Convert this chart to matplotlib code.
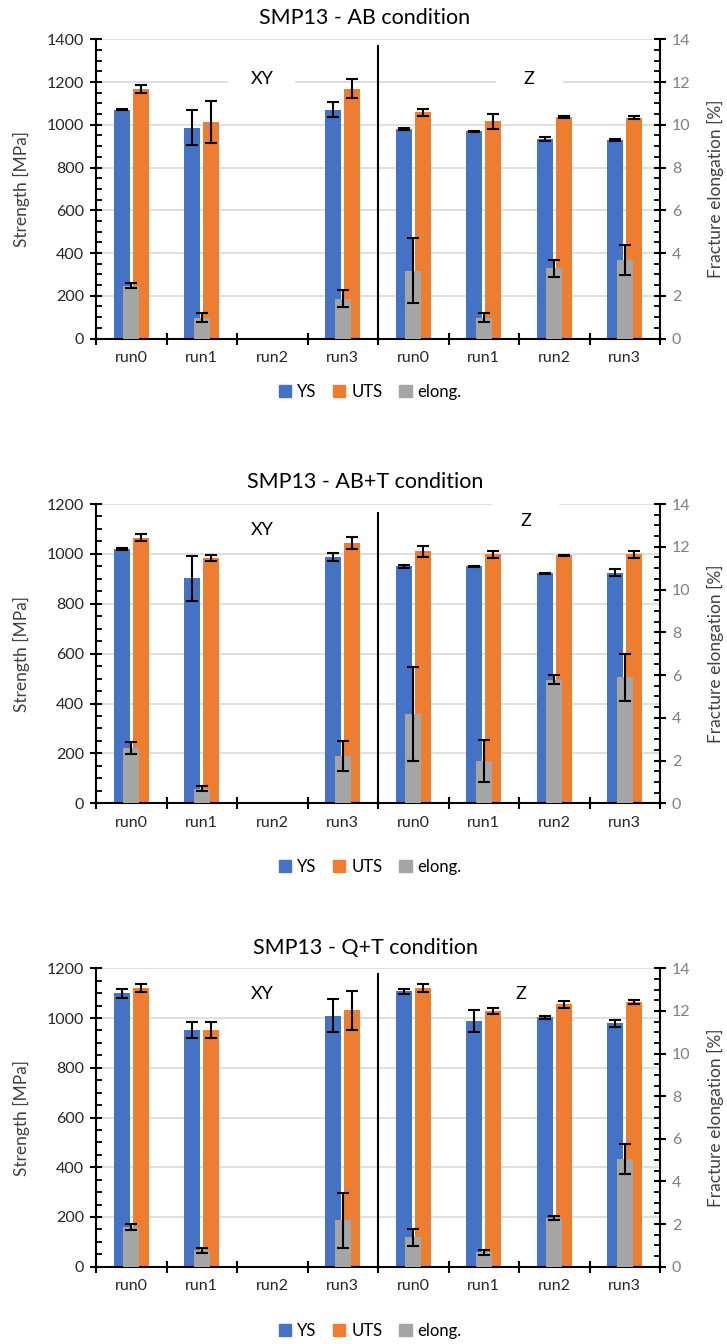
import numpy as np
import matplotlib.pyplot as plt
from matplotlib.ticker import MultipleLocator
from matplotlib.patches import Rectangle, Patch

plt.rcParams['font.family'] = ['Lato', 'DejaVu Sans']

runs = ['run0', 'run1', 'run2', 'run3', 'run0', 'run1', 'run2', 'run3']
nan = np.nan

# SMP13 - AB condition
ys_ab = [1070, 987, nan, 1070, 980, 969, 934, 930]
ys_ab_err = [3, 82, 0, 35, 3, 2, 10, 4]
uts_ab = [1167, 1014, nan, 1169, 1058, 1016, 1036, 1034]
uts_ab_err = [18, 98, 0, 44, 15, 34, 6, 7]
el_ab = [2.47, 0.97, nan, 1.87, 3.16, 0.97, 3.28, 3.67]
el_ab_err = [0.12, 0.22, 0, 0.41, 1.52, 0.22, 0.40, 0.71]

# SMP13 - AB+T condition
ys_abt = [1019, 903, nan, 987, 950, 950, 923, 924]
ys_abt_err = [5, 90, 0, 16, 5, 3, 2, 14]
uts_abt = [1065, 983, nan, 1043, 1010, 998, 994, 998]
uts_abt_err = [13, 12, 0, 25, 21, 15, 2, 14]
el_abt = [2.59, 0.69, nan, 2.21, 4.19, 1.98, 5.78, 5.89]
el_abt_err = [0.29, 0.10, 0, 0.69, 2.2, 1.0, 0.21, 1.1]

# SMP13 - Q+T condition
ys_qt = [1099, 952, nan, 1009, 1108, 987, 1003, 979]
ys_qt_err = [17, 32, 0, 67, 10, 44, 6, 14]
uts_qt = [1120, 952, nan, 1031, 1121, 1028, 1055, 1064]
uts_qt_err = [15, 32, 0, 79, 15, 13, 14, 7]
el_qt = [1.86, 0.77, nan, 2.18, 1.38, 0.67, 2.28, 5.07]
el_qt_err = [0.12, 0.12, 0, 1.3, 0.41, 0.13, 0.10, 0.71]

C_YS = '#4472C4'
C_UTS = '#ED7D31'
C_EL = '#A5A5A5'
W = 727.0
H = 1344.0

fig = plt.figure(figsize=(7.27, 13.44), dpi=100)


def panel(top, bottom, title, title_y, legend_y, ys, ys_err, uts, uts_err, el, el_err,
          ymax, xy_pos, z_pos, div_top):
    ax = fig.add_axes([96 / W, 1 - bottom / H, 564 / W, (bottom - top) / H])
    ax2 = ax.twinx()
    x = np.arange(len(runs))
    ax.set_axisbelow(True)
    ax.yaxis.grid(True, color='#d9d9d9', lw=1.2, zorder=0)
    ax.bar(x - 0.137, ys, 0.225, color=C_YS, zorder=2)
    ax.bar(x + 0.137, uts, 0.225, color=C_UTS, zorder=2)
    ax.errorbar(x - 0.137, ys, yerr=ys_err, fmt='none', ecolor='black',
                elinewidth=1.5, capsize=4, capthick=1.5, zorder=3)
    ax.errorbar(x + 0.137, uts, yerr=uts_err, fmt='none', ecolor='black',
                elinewidth=1.5, capsize=4, capthick=1.5, zorder=3)
    ax2.bar(x, el, 0.225, color=C_EL, zorder=2)
    ax2.errorbar(x, el, yerr=el_err, fmt='none', ecolor='black',
                 elinewidth=1.5, capsize=4, capthick=1.5, zorder=3)

    ax.set_xlim(-0.5, 7.5)
    ax.set_ylim(0, ymax)
    ax2.set_ylim(0, 14)
    ax.set_yticks(np.arange(0, ymax + 1, 200))
    ax.yaxis.set_minor_locator(MultipleLocator(50))
    ax2.set_yticks(np.arange(0, 15, 2))
    ax2.yaxis.set_minor_locator(MultipleLocator(0.5))

    ax.set_xticks(np.arange(-0.5, 8, 1))
    ax.set_xticklabels([])
    ax.set_xticks(x, minor=True)
    ax.set_xticklabels(runs, minor=True)
    ax.tick_params(axis='x', which='major', direction='inout', length=9, width=1.5)
    ax.tick_params(axis='x', which='minor', length=0, pad=9, labelsize=11.5,
                   labelcolor='#262626')
    ax.tick_params(axis='y', which='major', direction='inout', length=9, width=1.5,
                   labelsize=11.5, labelcolor='#262626', pad=4)
    ax.tick_params(axis='y', which='minor', direction='in', length=4, width=1.3)
    ax2.tick_params(axis='y', which='major', direction='inout', length=9, width=1.5,
                    labelsize=11.5, labelcolor='#7f7f7f', pad=4)
    ax2.tick_params(axis='y', which='minor', direction='in', length=4, width=1.3)

    for s in ['top', 'right']:
        ax.spines[s].set_visible(False)
    for s in ['top', 'left', 'bottom']:
        ax2.spines[s].set_visible(False)
    ax.spines['left'].set_linewidth(1.5)
    ax.spines['bottom'].set_linewidth(1.5)
    ax2.spines['right'].set_linewidth(1.5)

    ax.set_ylabel('Strength [MPa]', fontsize=12.5, color='#404040')
    ax.yaxis.set_label_coords(-0.117, 0.5)
    ax2.set_ylabel('Fracture elongation [%]', fontsize=12.5, color='#404040')
    ax2.yaxis.set_label_coords(1.084, 0.5)

    # divider between XY and Z
    ax.plot([3.5, 3.5], [0, div_top * ymax], color='black', lw=1.5, zorder=4)

    for lab, (px, py) in [('XY', xy_pos), ('Z', z_pos)]:
        ax.add_patch(Rectangle((px - 0.0595, py - 0.06), 0.119, 0.12,
                               transform=ax.transAxes, fc='white', ec='none', zorder=1))
        ax.text(px, py, lab, transform=ax.transAxes, ha='center', va='center',
                fontsize=13, color='black', zorder=5)

    fig.text(365 / W, 1 - title_y / H, title, ha='center', va='center',
             fontsize=15.5, color='black')

    handles = [Patch(color=C_YS), Patch(color=C_UTS), Patch(color=C_EL)]
    fig.legend(handles, ['YS', 'UTS', 'elong.'], loc='center',
               bbox_to_anchor=(370 / W, 1 - legend_y / H), ncol=3, frameon=False,
               handlelength=0.75, handleheight=0.75, handletextpad=0.35,
               columnspacing=1.0, fontsize=12)


panel(39.3, 338.5, 'SMP13 - AB condition', 18, 392, ys_ab, ys_ab_err, uts_ab, uts_ab_err,
      el_ab, el_ab_err, 1400, (0.294, 0.868), (0.768, 0.868), 0.978)
panel(504, 803.3, 'SMP13 - AB+T condition', 482, 867, ys_abt, ys_abt_err, uts_abt,
      uts_abt_err, el_abt, el_abt_err, 1200, (0.294, 0.914), (0.762, 0.944), 0.97)
panel(968.3, 1266.7, 'SMP13 - Q+T condition', 948, 1331, ys_qt, ys_qt_err, uts_qt,
      uts_qt_err, el_qt, el_qt_err, 1200, (0.294, 0.915), (0.754, 0.915), 0.98)

fig.savefig('out.png', dpi=100)
